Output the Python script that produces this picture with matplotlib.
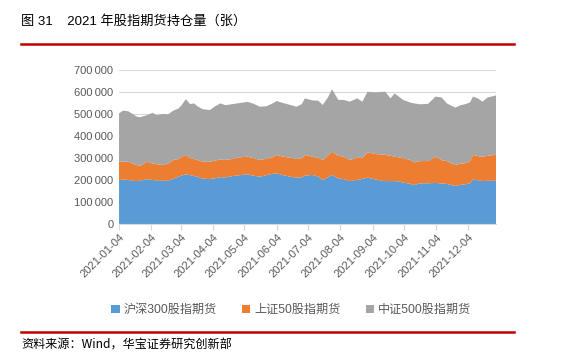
import matplotlib
matplotlib.use('Agg')
import matplotlib.pyplot as plt
import matplotlib.dates as mdates
import numpy as np
import pandas as pd

plt.rcParams['font.family'] = ['Liberation Sans', 'Noto Sans CJK SC', 'DejaVu Sans']

# 数据（读图估计，单位：张）
dates = ['2021-01-04', '2021-01-08', '2021-01-13', '2021-01-17', '2021-01-21', '2021-01-24',
         '2021-01-31', '2021-02-05', '2021-02-09', '2021-02-15', '2021-02-20', '2021-02-25',
         '2021-03-02', '2021-03-05', '2021-03-09', '2021-03-13', '2021-03-17', '2021-03-20',
         '2021-03-25', '2021-04-01', '2021-04-06', '2021-04-11', '2021-04-16', '2021-04-23',
         '2021-04-30', '2021-05-07', '2021-05-12', '2021-05-19', '2021-05-25', '2021-05-31',
         '2021-06-04', '2021-06-10', '2021-06-17', '2021-06-23', '2021-06-28', '2021-07-01',
         '2021-07-08', '2021-07-14', '2021-07-18', '2021-07-23', '2021-07-27', '2021-08-02',
         '2021-08-07', '2021-08-13', '2021-08-20', '2021-08-25', '2021-08-30', '2021-09-06',
         '2021-09-11', '2021-09-16', '2021-09-21', '2021-09-25', '2021-09-30', '2021-10-03',
         '2021-10-10', '2021-10-14', '2021-10-19', '2021-10-27', '2021-11-03', '2021-11-09',
         '2021-11-14', '2021-11-22', '2021-11-27', '2021-12-01', '2021-12-06', '2021-12-09',
         '2021-12-14', '2021-12-18', '2021-12-23', '2021-12-30', '2021-12-31']

hs300 = [200, 202, 200, 197, 195, 197, 204, 200, 198, 197, 197, 205,
         215, 220, 226, 222, 218, 215, 206, 204, 208, 213, 212, 218,
         222, 226, 220, 215, 222, 228, 230, 222, 215, 211, 212, 220,
         223, 215, 200, 212, 223, 207, 204, 195, 200, 205, 211, 203,
         198, 195, 195, 195, 193, 188, 183, 177, 185, 185, 187, 184,
         182, 173, 178, 180, 185, 203, 198, 195, 197, 197, 198]

sz50 = [83, 81, 83, 78, 73, 67, 79, 75, 74, 71, 78, 86,
        80, 85, 88, 78, 77, 76, 77, 79, 80, 81, 79, 78,
        81, 80, 80, 76, 74, 75, 84, 84, 86, 85, 86, 94,
        83, 85, 91, 98, 106, 103, 102, 96, 101, 95, 115, 115,
        119, 119, 115, 111, 109, 111, 108, 103, 101, 101, 119, 106,
        104, 95, 97, 96, 100, 111, 110, 111, 113, 117, 118]

zz500 = [220, 232, 229, 225, 220, 221, 212, 230, 223, 232, 223, 224,
         230, 235, 254, 245, 253, 244, 239, 235, 247, 254, 249, 249,
         247, 249, 248, 242, 239, 245, 245, 244, 240, 237, 247, 257,
         256, 260, 250, 265, 283, 254, 258, 265, 270, 256, 275, 280,
         283, 287, 261, 288, 273, 265, 261, 268, 258, 260, 273, 285,
         262, 261, 265, 268, 267, 265, 262, 250, 265, 269, 269]

labels = ['沪深300股指期货', '上证50股指期货', '中证500股指期货']
colors = ['#5B9BD5', '#ED7D31', '#A5A5A5']

x = pd.to_datetime(dates)
ys = [np.array(hs300) * 1000, np.array(sz50) * 1000, np.array(zz500) * 1000]

fig = plt.figure(figsize=(5.63, 3.6), dpi=100)
ax = fig.add_axes([0.2114, 0.3778, 0.6696, 0.4278])

ax.stackplot(x, *ys, labels=labels, colors=colors, linewidth=0, zorder=2)

ax.set_ylim(0, 700000)
ax.set_yticks(np.arange(0, 700001, 100000))
ax.yaxis.set_major_formatter(plt.FuncFormatter(lambda v, p: f'{int(v):,}'.replace(',', '\u2009')))
ax.grid(axis='y', color='#D9D9D9', linewidth=0.8, zorder=0)
ax.set_axisbelow(True)

ax.set_xlim(pd.Timestamp('2021-01-04'), pd.Timestamp('2021-12-31'))
ticks = pd.to_datetime([f'2021-{m:02d}-04' for m in range(1, 13)])
ax.set_xticks(ticks)
ax.xaxis.set_major_formatter(mdates.DateFormatter('%Y-%m-%d'))
for lb in ax.get_xticklabels():
    lb.set_rotation(45)
    lb.set_ha('right')
    lb.set_rotation_mode('anchor')

for s in ['top', 'right', 'left']:
    ax.spines[s].set_visible(False)
ax.spines['bottom'].set_color('#D9D9D9')
ax.tick_params(axis='y', length=0, labelsize=8, labelcolor='#595959', pad=4)
ax.tick_params(axis='x', length=4, color='#D9D9D9', labelsize=8, labelcolor='#595959', pad=2)

leg = fig.legend(loc='center', bbox_to_anchor=(0.517, 0.139), ncol=3, frameon=False,
                 fontsize=8.7, handlelength=0.7, handleheight=0.7, handletextpad=0.3,
                 columnspacing=2.1, labelcolor='#595959')

# 标题与来源
fig.text(0.038, 0.94, '图 31    2021 年股指期货持仓量（张）', fontsize=9.5, color='black',
         va='center', ha='left')
fig.add_artist(plt.Line2D([0.037, 0.913], [0.877, 0.877], color='#C00000', linewidth=1.8))
fig.add_artist(plt.Line2D([0.037, 0.913], [0.079, 0.079], color='#C00000', linewidth=1.8))
fig.text(0.038, 0.042, '资料来源：Wind，华宝证券研究创新部', fontsize=8.7, color='black',
         va='center', ha='left', family=['Noto Sans CJK SC', 'DejaVu Sans'])

fig.savefig('out.png', dpi=100)
